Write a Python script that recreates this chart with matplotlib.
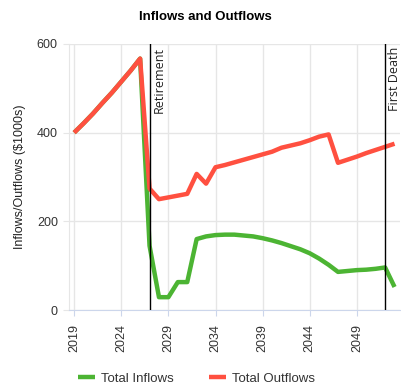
import matplotlib
matplotlib.use('Agg')
import matplotlib.pyplot as plt

# data ($1000s)
years = list(range(2019, 2054))
inflows = [400, 421, 443, 467, 490, 515, 540, 567,
           145, 29, 29, 63, 63, 160, 166, 169,
           170, 170, 168, 166, 162, 157, 151, 144, 137, 128,
           116, 102, 86, 88, 90, 91, 93, 96, 52]
outflows = [400, 421, 443, 467, 490, 515, 540, 567,
            274, 250, 254, 258, 262, 307, 285, 322,
            327, 333, 339, 345, 351, 357, 366, 371, 376, 383,
            391, 396, 332, 339, 346, 354, 361, 368, 375]
events = [(2027, 'Retirement'), (2052, 'First Death')]
xticks = [2019, 2024, 2029, 2034, 2039, 2044, 2049]
yticks = [0, 200, 400, 600]

plt.rcParams['font.family'] = ['Liberation Sans', 'DejaVu Sans']

green = '#4cb433'
red = '#ff5040'

fig = plt.figure(figsize=(4.01, 3.89), dpi=100)
ax = fig.add_axes([0.172, 0.203, 0.826, 0.684])

ax.plot(years, inflows, color=green, lw=3.2, solid_capstyle='butt', label='Total Inflows', zorder=3)
ax.plot(years, outflows, color=red, lw=3.2, solid_capstyle='butt', label='Total Outflows', zorder=4)

for yr, name in events:
    ax.axvline(yr, color='black', lw=1, zorder=5)
    ax.text(yr + 0.35, 593, name, rotation=90, va='top', ha='left',
            fontsize=9, family=['Open Sans', 'DejaVu Sans'], color='#222222', zorder=6)

ax.set_xlim(2018.45, 2053.6)
ax.set_ylim(0, 600)
ax.set_xticks(xticks)
ax.set_yticks(yticks)
ax.set_xticklabels([str(t) for t in xticks], rotation=90)
ax.tick_params(axis='x', labelsize=9, colors='#333333', length=4, color='#ccd6eb', pad=6)
ax.tick_params(axis='y', labelsize=9, colors='#333333', length=4, color='#e6e6e6', pad=4)
ax.grid(True, color='#e6e6e6', lw=1, zorder=0)
ax.set_axisbelow(True)
for s in ['top', 'right']:
    ax.spines[s].set_visible(False)
ax.spines['left'].set_color('#e6e6e6')
ax.spines['bottom'].set_color('#ccd6eb')

ax.set_ylabel('Inflows/Outflows ($1000s)', fontsize=9, color='#222222', labelpad=8)
fig.text(0.511, 0.956, 'Inflows and Outflows', fontsize=9.5, fontweight='bold',
         ha='center', va='center')

leg = fig.legend(loc='lower center', bbox_to_anchor=(0.49, -0.02), ncol=2, frameon=False,
                 fontsize=9.5, handlelength=1.3, columnspacing=2.6, handletextpad=0.5)
for t in leg.get_texts():
    t.set_color('#333333')

fig.savefig('out.png', dpi=100)
